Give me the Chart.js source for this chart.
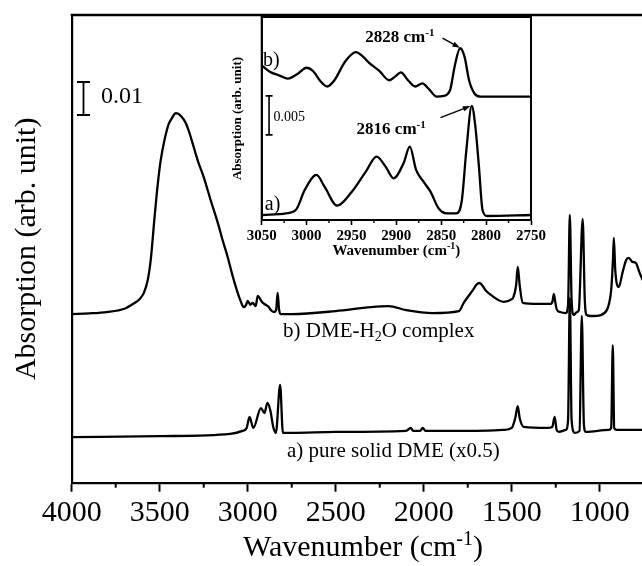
<!DOCTYPE html>
<html>
<head>
<meta charset="utf-8">
<script src="https://cdn.jsdelivr.net/npm/chart.js@4.4.0/dist/chart.umd.min.js"></script>
<style>
  html, body { margin: 0; padding: 0; background: #fff; overflow: hidden; }
  #wrap { position: relative; width: 642px; height: 566px; }
  #main { position: absolute; left: 0; top: 0; }
  #inset { position: absolute; left: 224px; top: 0; }
</style>
</head>
<body>
<div id="wrap">
  <canvas id="main" width="642" height="566"></canvas>
  <canvas id="inset" width="324" height="262"></canvas>
</div>
<script>
const SERIF = "'Liberation Serif', 'Times New Roman', serif";

// main spectrum b) DME-H2O complex (absorbance x 1e-3)
const wnB = [4000, 3900, 3800, 3700, 3650, 3615, 3590, 3568, 3550, 3530, 3510, 3494, 3470, 3450, 3437, 3420,
  3409, 3395, 3380, 3352, 3330, 3307, 3280, 3250, 3210, 3170, 3140, 3114, 3085, 3057, 3040, 3023, 3010,
  3000, 2985, 2972, 2955, 2943, 2920, 2898, 2880, 2869, 2850, 2838, 2830, 2822, 2813, 2750, 2500, 2300,
  2200, 2100, 1950, 1800, 1773, 1720, 1700, 1682, 1665, 1650, 1619, 1545, 1500, 1490, 1475, 1466, 1455,
  1438, 1350, 1278, 1268, 1261, 1252, 1245, 1225, 1193, 1180, 1170, 1160, 1148, 1130, 1119, 1097, 1085,
  1074, 1050, 994, 960, 949, 935, 925, 920, 912, 892, 870, 850, 835, 815, 795, 775, 756];
const absB = [51.1, 51.3, 51.7, 52.7, 54.2, 55.6, 57.5, 61.4, 68.0, 80.0, 91.0, 97.8, 104.5, 108.5, 109.9, 111.4,
  112.0, 111.8, 111.1, 109.0, 105.8, 101.7, 97.0, 92.6, 85.5, 78.7, 73.0, 68.4, 62.5, 57.5, 55.0, 53.2, 53.8,
  55.1, 53.9, 54.5, 53.5, 56.6, 54.8, 53.9, 53.2, 52.3, 51.7, 52.5, 57.5, 52.5, 51.1, 51.1, 52.0, 53.2,
  53.5, 52.3, 51.4, 52.0, 54.5, 58.4, 60.0, 60.5, 59.6, 58.4, 56.9, 54.8, 55.6, 56.3, 59.9, 65.4, 59.9,
  54.5, 54.2, 54.2, 55.0, 57.2, 54.5, 52.6, 51.7, 51.4, 53.9, 81.1, 55.4, 50.8, 51.7, 52.3, 79.9, 55.4,
  50.8, 50.5, 50.8, 52.3, 53.9, 58.4, 67.5, 74.2, 64.5, 59.3, 63.8, 67.5, 68.1, 66.9, 66.6, 63.8, 61.4];

// main spectrum a) pure solid DME (x0.5)
const wnA = [4000, 3500, 3100, 3030, 3006, 2990, 2968, 2925, 2905, 2888, 2872, 2855, 2840, 2816, 2800, 2750,
  2500, 2100, 2074, 2060, 2020, 2006, 1990, 1700, 1545, 1500, 1480, 1466, 1455, 1432, 1300, 1270, 1256,
  1245, 1233, 1193, 1180, 1170, 1160, 1142, 1115, 1102, 1090, 1080, 950, 935, 926, 918, 903, 756];
const absA = [13.8, 14.1, 14.8, 15.7, 16.6, 19.9, 16.6, 22.6, 21.1, 24.2, 22.0, 16.9, 15.1, 29.6, 15.1, 15.1,
  15.4, 15.7, 16.6, 15.7, 15.7, 16.6, 15.7, 15.7, 16.0, 16.6, 19.6, 23.2, 19.6, 16.9, 16.6, 16.9, 19.9,
  16.0, 15.4, 16.0, 19.0, 56.0, 19.0, 15.1, 15.7, 50.5, 17.5, 15.4, 16.0, 16.6, 41.7, 16.6, 16.0, 16.0];

// inset, C-H stretch region (absorbance x 1e-3)
const insetWnB = [3049, 3041, 3030, 3021, 3016, 3009, 3000, 2993, 2984, 2977, 2969, 2957, 2945, 2937, 2930,
  2919, 2908, 2901, 2895, 2887, 2879, 2871, 2864, 2855, 2847, 2840, 2835, 2829, 2824, 2819, 2813, 2806,
  2790, 2750];
const insetAbsB = [19.7, 19.0, 18.5, 18.1, 18.3, 18.8, 19.5, 19.1, 17.7, 17.1, 17.9, 20.3, 21.5, 20.9, 20.1,
  19.1, 17.9, 18.4, 18.9, 17.9, 17.1, 17.5, 16.8, 15.8, 15.9, 16.7, 19.7, 22.0, 20.9, 17.9, 16.2, 15.8,
  15.8, 15.8];
const insetWnA = [3049, 3023, 3012, 3002, 2989, 2980, 2966, 2951, 2934, 2922, 2912, 2903, 2892, 2885, 2878,
  2869, 2862, 2853, 2844, 2833, 2827, 2822, 2816, 2812, 2808, 2804, 2799, 2750];
const insetAbsA = [0.64, 0.85, 1.28, 3.85, 5.77, 4.27, 1.84, 3.42, 6.20, 8.12, 6.84, 5.34, 7.26, 9.40, 6.41,
  4.79, 3.63, 1.50, 0.85, 0.85, 2.56, 8.97, 14.6, 12.0, 6.84, 1.28, 0.51, 0.64];

const mainTicks = [4000, 3500, 3000, 2500, 2000, 1500, 1000];
const mainMinorTicks = [3750, 3250, 2750, 2250, 1750, 1250];
const insetTicks = [3050, 3000, 2950, 2900, 2850, 2800, 2750];
const insetMinorTicks = [3025, 2975, 2925, 2875, 2825, 2775];

function pts(xs, ys) {
  return xs.map((x, i) => ({x: x, y: ys[i]}));
}

// draws a string made of normal / sub / sup parts
function richText(ctx, x, y, parts, size, weight, align) {
  const big = weight + ' ' + size + 'px ' + SERIF;
  const small = weight + ' ' + Math.round(size * 0.65) + 'px ' + SERIF;
  let total = 0;
  parts.forEach(p => { ctx.font = p.sub || p.sup ? small : big; total += ctx.measureText(p.t).width; });
  let cx = align === 'center' ? x - total / 2 : x;
  ctx.textAlign = 'left';
  ctx.textBaseline = 'alphabetic';
  parts.forEach(p => {
    ctx.font = p.sub || p.sup ? small : big;
    let dy = p.sub ? size * 0.22 : (p.sup ? -size * 0.38 : 0);
    ctx.fillText(p.t, cx, y + dy);
    cx += ctx.measureText(p.t).width;
  });
}

function arrow(ctx, x1, y1, x2, y2) {
  const a = Math.atan2(y2 - y1, x2 - x1);
  const head = 8;
  ctx.beginPath();
  ctx.moveTo(x1, y1);
  ctx.lineTo(x2 - Math.cos(a) * head * 0.8, y2 - Math.sin(a) * head * 0.8);
  ctx.stroke();
  ctx.beginPath();
  ctx.moveTo(x2, y2);
  ctx.lineTo(x2 - head * Math.cos(a - 0.35), y2 - head * Math.sin(a - 0.35));
  ctx.lineTo(x2 - head * Math.cos(a + 0.35), y2 - head * Math.sin(a + 0.35));
  ctx.closePath();
  ctx.fill();
}

function scaleBar(ctx, x, yTop, yBot, cap) {
  ctx.beginPath();
  ctx.moveTo(x, yTop); ctx.lineTo(x, yBot);
  ctx.moveTo(x - cap, yTop); ctx.lineTo(x + cap, yTop);
  ctx.moveTo(x - cap, yBot); ctx.lineTo(x + cap, yBot);
  ctx.stroke();
}

const minorTicks = {
  id: 'minorTicks',
  afterDraw(chart, args, opts) {
    const {ctx} = chart;
    const x = chart.scales.x;
    ctx.save();
    ctx.strokeStyle = '#000';
    ctx.lineWidth = opts.width;
    opts.values.forEach(v => {
      const px = x.getPixelForValue(v);
      if (px < x.left - 1 || px > x.right + 1) return;
      ctx.beginPath();
      ctx.moveTo(px, x.top);
      ctx.lineTo(px, x.top + opts.length);
      ctx.stroke();
    });
    ctx.restore();
  }
};

const mainDecor = {
  id: 'mainDecor',
  afterDraw(chart) {
    const {ctx, chartArea} = chart;
    const x = chart.scales.x, y = chart.scales.y;
    ctx.save();
    ctx.strokeStyle = '#000';
    ctx.fillStyle = '#000';
    ctx.lineWidth = 2.5;
    ctx.beginPath();
    ctx.moveTo(chartArea.left - 1, chartArea.top);
    ctx.lineTo(chartArea.right, chartArea.top);
    ctx.stroke();

    ctx.lineWidth = 1.8;
    scaleBar(ctx, x.getPixelForValue(3933), y.getPixelForValue(121.4), y.getPixelForValue(111.4), 6.5);
    ctx.textBaseline = 'middle';
    ctx.textAlign = 'left';
    ctx.font = '24px ' + SERIF;
    ctx.fillText('0.01', x.getPixelForValue(3833), y.getPixelForValue(116.9));

    richText(ctx, x.getPixelForValue(2799), y.getPixelForValue(44.2),
      [{t: 'b) DME-H'}, {t: '2', sub: true}, {t: 'O complex'}], 21, 'normal', 'left');
    richText(ctx, x.getPixelForValue(2777), y.getPixelForValue(7.8),
      [{t: 'a) pure solid DME (x0.5)'}], 21, 'normal', 'left');

    richText(ctx, 363, 556, [{t: 'Wavenumber (cm'}, {t: '-1', sup: true}, {t: ')'}], 30, 'normal', 'center');
    ctx.restore();
  }
};

const insetDecor = {
  id: 'insetDecor',
  afterDraw(chart) {
    const {ctx, chartArea} = chart;
    const x = chart.scales.x, y = chart.scales.y;
    ctx.save();
    ctx.strokeStyle = '#000';
    ctx.fillStyle = '#000';
    ctx.lineWidth = 2;
    ctx.strokeRect(chartArea.left, chartArea.top, chartArea.right - chartArea.left, chartArea.bottom - chartArea.top);

    ctx.lineWidth = 1.6;
    scaleBar(ctx, x.getPixelForValue(3041.8), y.getPixelForValue(15.9), y.getPixelForValue(10.9), 3.5);
    ctx.font = '14px ' + SERIF;
    ctx.textAlign = 'left';
    ctx.textBaseline = 'middle';
    ctx.fillText('0.005', x.getPixelForValue(3036.8), y.getPixelForValue(13.1));

    richText(ctx, x.getPixelForValue(3048.6), y.getPixelForValue(19.7), [{t: 'b)'}], 20, 'normal', 'left');
    richText(ctx, x.getPixelForValue(3046.5), y.getPixelForValue(1.3), [{t: 'a)'}], 20, 'normal', 'left');

    richText(ctx, x.getPixelForValue(2934.6), y.getPixelForValue(22.8),
      [{t: '2828 cm'}, {t: '-1', sup: true}], 17, 'bold', 'left');
    richText(ctx, x.getPixelForValue(2944.3), y.getPixelForValue(11.0),
      [{t: '2816 cm'}, {t: '-1', sup: true}], 17, 'bold', 'left');

    ctx.lineWidth = 1.4;
    arrow(ctx, x.getPixelForValue(2848.6), y.getPixelForValue(23.3), x.getPixelForValue(2829.2), y.getPixelForValue(22.05));
    arrow(ctx, x.getPixelForValue(2850.8), y.getPixelForValue(13.1), x.getPixelForValue(2817.5), y.getPixelForValue(14.6));

    richText(ctx, (chartArea.left + chartArea.right) / 2, 255,
      [{t: 'Wavenumber (cm'}, {t: '-1', sup: true}, {t: ')'}], 15, 'bold', 'center');
    ctx.restore();
  }
};

const lineStyle = {
  borderColor: '#000',
  borderWidth: 2.3,
  pointRadius: 0,
  cubicInterpolationMode: 'monotone',
  fill: false,
  borderJoinStyle: 'round'
};

new Chart(document.getElementById('main'), {
  type: 'line',
  data: {
    datasets: [
      Object.assign({label: 'b) DME-H2O complex', data: pts(wnB, absB)}, lineStyle),
      Object.assign({label: 'a) pure solid DME (x0.5)', data: pts(wnA, absA)}, lineStyle)
    ]
  },
  options: {
    responsive: false,
    animation: false,
    devicePixelRatio: 1,
    layout: { padding: { top: 15, right: 0, left: 0, bottom: 0 } },
    scales: {
      x: {
        type: 'linear',
        reverse: true,
        min: 760,
        max: 4000,
        afterBuildTicks: s => { s.ticks = mainTicks.map(v => ({value: v})); },
        afterFit: s => { s.height = 83.3; },
        ticks: {
          autoSkip: false,
          maxRotation: 0,
          color: '#000',
          padding: 3,
          font: { family: SERIF, size: 30 },
          callback: v => String(v)
        },
        grid: { drawOnChartArea: false, tickLength: 9, tickWidth: 2, tickColor: '#000' },
        border: { display: true, width: 2.2, color: '#000' }
      },
      y: {
        min: 0,
        max: 141.7,
        afterFit: s => { s.width = 71.7; },
        ticks: { display: false },
        grid: { display: false },
        border: { display: true, width: 2.2, color: '#000' },
        title: {
          display: true,
          text: 'Absorption (arb. unit)',
          color: '#000',
          font: { family: SERIF, size: 30 },
          padding: { top: 9, bottom: 0 }
        }
      }
    },
    plugins: {
      legend: { display: false },
      tooltip: { enabled: false },
      minorTicks: { values: mainMinorTicks, length: 5, width: 2 }
    }
  },
  plugins: [minorTicks, mainDecor]
});

new Chart(document.getElementById('inset'), {
  type: 'line',
  data: {
    datasets: [
      Object.assign({label: 'b)', data: pts(insetWnB, insetAbsB)}, lineStyle),
      Object.assign({label: 'a)', data: pts(insetWnA, insetAbsA)}, lineStyle)
    ]
  },
  options: {
    responsive: false,
    animation: false,
    devicePixelRatio: 1,
    layout: { padding: { top: 17, right: 7.3, left: 0, bottom: 0 } },
    scales: {
      x: {
        type: 'linear',
        reverse: true,
        min: 2750,
        max: 3050,
        afterBuildTicks: s => { s.ticks = insetTicks.map(v => ({value: v})); },
        afterFit: s => { s.height = 42; },
        ticks: {
          autoSkip: false,
          maxRotation: 0,
          color: '#000',
          padding: 2,
          font: { family: SERIF, size: 15, weight: 'bold' },
          callback: v => String(v)
        },
        grid: { drawOnChartArea: false, tickLength: 5, tickWidth: 1.6, tickColor: '#000' },
        border: { display: true, width: 2, color: '#000' }
      },
      y: {
        min: 0,
        max: 26,
        afterFit: s => { s.width = 37.7; },
        ticks: { display: false },
        grid: { display: false },
        border: { display: true, width: 2, color: '#000' },
        title: {
          display: true,
          text: 'Absorption (arb. unit)',
          color: '#000',
          font: { family: SERIF, size: 13, weight: 'bold' },
          padding: { top: 6, bottom: 0 }
        }
      }
    },
    plugins: {
      legend: { display: false },
      tooltip: { enabled: false },
      minorTicks: { values: insetMinorTicks, length: 3, width: 1.4 }
    }
  },
  plugins: [minorTicks, insetDecor]
});
</script>
</body>
</html>
